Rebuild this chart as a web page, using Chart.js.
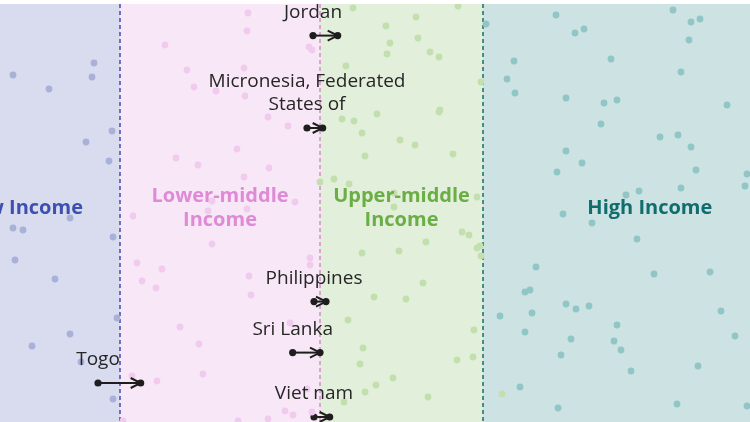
<!DOCTYPE html>
<html>
<head>
<meta charset="utf-8">
<script src="https://cdn.jsdelivr.net/npm/chart.js@4.4.1/dist/chart.umd.min.js"></script>
<style>
  html, body { margin: 0; padding: 0; background: #fff; }
  canvas { display: block; }
</style>
</head>
<body>
<canvas id="income-chart" width="750" height="422"></canvas>
<script>
// x = log10 of GNI per capita (US$), y = jitter row only
const thresholds = [3.06, 3.66, 4.149];
const bandEdges = [2.478, 3.06, 3.66, 4.149, 5.15];
const groupNames = [['Low Income'], ['Lower-middle', 'Income'], ['Upper-middle', 'Income'], ['High Income']];

const lowDots = [
  [2.739, 173.5], [2.847, 166.5], [2.982, 179.5], [2.976, 172.5], [3.036, 145.5], [2.958, 140],
  [3.027, 130.5], [2.910, 102], [2.739, 97], [2.769, 96], [3.039, 92.5], [2.745, 81],
  [2.865, 71.5], [3.051, 52], [2.910, 44], [2.796, 38], [2.943, 30], [3.039, 11.5]
];
const lowerMidDots = [
  [3.444, 204.5], [3.441, 195.5], [3.195, 188.5], [3.261, 176], [3.282, 167.5], [3.348, 165.5],
  [3.432, 177], [3.435, 163], [3.504, 152.5], [3.564, 148], [3.627, 187.5], [3.636, 186],
  [3.411, 136.5], [3.228, 132], [3.294, 128.5], [3.507, 127], [3.432, 122.5], [3.585, 110],
  [3.336, 110.5], [3.324, 105.5], [3.441, 106.5], [3.099, 103], [3.336, 89], [3.111, 79.5],
  [3.186, 76.5], [3.126, 70.5], [3.168, 67], [3.447, 73], [3.453, 63.5], [3.630, 82],
  [3.630, 78.5], [3.240, 47.5], [3.297, 39], [3.570, 49.5], [3.309, 24], [3.171, 20.5],
  [3.096, 23], [3.555, 5.5], [3.579, 3.5], [3.504, 1.5], [3.069, 0.5], [3.414, 0.5],
  [3.636, 5], [3.621, 16.5]
];
const upperMidDots = [
  [3.759, 207], [4.074, 208], [3.948, 202.5], [3.858, 198], [3.954, 192], [3.870, 189.5],
  [3.861, 184], [3.990, 185], [4.017, 182.5], [3.738, 178], [4.143, 170], [4.020, 156],
  [4.017, 155], [3.726, 151.5], [3.762, 150.5], [3.831, 154], [3.786, 144.5], [3.900, 141],
  [3.945, 138.5], [3.795, 133], [4.059, 134], [3.702, 121.5], [3.747, 119], [3.660, 120],
  [3.882, 114.5], [3.882, 107.5], [4.131, 112.5], [4.086, 95], [4.107, 93.5], [3.978, 90],
  [3.897, 85.5], [3.786, 84.5], [4.131, 87], [4.140, 88], [4.143, 83], [3.969, 69.5],
  [3.822, 62.5], [3.918, 61.5], [3.744, 51], [4.122, 46], [3.789, 37], [3.780, 29],
  [4.071, 31], [4.119, 32.5], [3.879, 22], [3.828, 18.5], [3.795, 15], [3.984, 12.5],
  [3.732, 10], [4.206, 14]
];
const highDots = [
  [4.158, 199], [4.368, 203.5], [4.425, 194.5], [4.452, 196.5], [4.719, 206], [4.773, 200],
  [4.800, 201.5], [4.767, 191], [4.242, 180.5], [4.221, 171.5], [4.245, 164.5], [4.533, 181.5],
  [4.743, 175], [4.398, 162], [4.512, 159.5], [4.551, 161], [4.881, 158.5], [4.503, 149],
  [4.680, 142.5], [4.734, 143.5], [4.773, 137.5], [4.398, 135.5], [4.446, 129.5], [4.371, 125],
  [4.788, 126], [4.941, 124], [4.935, 118], [4.578, 113.5], [4.617, 115.5], [4.743, 117],
  [4.389, 104], [4.476, 99.5], [4.611, 91.5], [4.308, 77.5], [4.662, 74], [4.830, 75],
  [4.275, 65], [4.290, 66], [4.296, 54.5], [4.200, 53], [4.398, 59], [4.428, 56.5],
  [4.467, 58], [4.863, 55.5], [4.551, 48.5], [4.275, 45], [4.413, 41.5], [4.542, 40.5],
  [4.563, 36], [4.905, 43], [4.383, 33.5], [4.593, 25.5], [4.794, 28], [4.260, 17.5],
  [4.374, 7], [4.731, 9], [4.941, 8]
];

const countries = ['Jordan', ['Micronesia, Federated', 'States of'], 'Philippines', 'Sri Lanka', 'Togo', 'Viet nam'];
const gniFrom = [3.639, 3.621, 3.642, 3.578, 2.994, 3.642];
const gniTo = [3.713, 3.668, 3.678, 3.660, 3.122, 3.689];
const countryRow = [193.2, 147, 60.2, 34.7, 19.5, 2.5];

const bandColors = ['#d8dcee', '#f8e7f7', '#e2efda', '#cde2e3'];
const dotColors = ['#a9b1d9', '#f1cbed', '#c3dfad', '#91c5c6'];
const labelColors = ['#3d4fb0', '#df8ad6', '#6aae45', '#0f6d6d'];
const lineColors = ['#3d4fb0', '#d98ad1', '#17706f'];

const toPoints = arr => arr.map(d => ({ x: d[0], y: d[1] }));

const dotSets = [lowDots, lowerMidDots, upperMidDots, highDots].map((arr, i) => ({
  data: toPoints(arr),
  pointRadius: 3.4,
  pointBorderWidth: 0,
  pointBackgroundColor: dotColors[i],
  showLine: false,
  clip: 0
}));

const arrowSets = countries.map((c, i) => ({
  data: [{ x: gniFrom[i], y: countryRow[i] }, { x: gniTo[i], y: countryRow[i] }],
  showLine: true,
  borderColor: '#1e1e1e',
  borderWidth: 2,
  pointRadius: 3.6,
  pointBorderWidth: 0,
  pointBackgroundColor: '#1e1e1e',
  clip: false
}));

const bandsPlugin = {
  id: 'bands',
  beforeDatasetsDraw(chart) {
    const { ctx, chartArea, scales: { x } } = chart;
    ctx.save();
    for (let i = 0; i < bandColors.length; i++) {
      const x0 = Math.max(chartArea.left, x.getPixelForValue(bandEdges[i]));
      const x1 = Math.min(chartArea.right, x.getPixelForValue(bandEdges[i + 1]));
      ctx.fillStyle = bandColors[i];
      ctx.fillRect(x0, chartArea.top, x1 - x0, chartArea.bottom - chartArea.top);
    }
    ctx.lineWidth = 1.5;
    ctx.setLineDash([4, 3]);
    thresholds.forEach((t, i) => {
      const px = Math.round(x.getPixelForValue(t));
      ctx.strokeStyle = lineColors[i];
      ctx.beginPath();
      ctx.moveTo(px, chartArea.top);
      ctx.lineTo(px, chartArea.bottom);
      ctx.stroke();
    });
    ctx.restore();
  },
  afterDatasetsDraw(chart) {
    const { ctx, scales: { x, y } } = chart;
    ctx.save();
    // group names, centred in their band
    ctx.font = 'bold 20px "Open Sans"';
    ctx.textAlign = 'center';
    ctx.textBaseline = 'middle';
    const midY = y.getPixelForValue(107);
    groupNames.forEach((lines, i) => {
      const cx = (x.getPixelForValue(bandEdges[i]) + x.getPixelForValue(bandEdges[i + 1])) / 2;
      ctx.fillStyle = labelColors[i];
      lines.forEach((t, k) => {
        ctx.fillText(t, cx, midY + (k - (lines.length - 1) / 2) * 24);
      });
    });

    // arrow heads and country names
    ctx.strokeStyle = '#1e1e1e';
    ctx.lineWidth = 2;
    ctx.font = '19px "Open Sans"';
    ctx.fillStyle = '#262626';
    countries.forEach((c, i) => {
      const x0 = x.getPixelForValue(gniFrom[i]);
      const x1 = x.getPixelForValue(gniTo[i]);
      const py = y.getPixelForValue(countryRow[i]);
      const dir = x1 >= x0 ? 1 : -1;
      ctx.beginPath();
      ctx.moveTo(x1 - dir * 10, py - 5);
      ctx.lineTo(x1, py);
      ctx.lineTo(x1 - dir * 10, py + 5);
      ctx.stroke();
      const lines = Array.isArray(c) ? c : [c];
      lines.forEach((t, k) => {
        ctx.fillText(t, x0, py - 23 - (lines.length - 1 - k) * 23);
      });
    });
    ctx.restore();
  }
};

new Chart(document.getElementById('income-chart').getContext('2d'), {
  type: 'scatter',
  data: { datasets: dotSets.concat(arrowSets) },
  options: {
    responsive: false,
    animation: false,
    devicePixelRatio: 1,
    layout: { autoPadding: false, padding: { top: 4, left: 0, right: 0, bottom: 0 } },
    plugins: { legend: { display: false }, tooltip: { enabled: false } },
    scales: {
      x: { type: 'linear', min: 2.70, max: 4.95, display: false },
      y: { type: 'linear', min: 0, max: 209, display: false }
    }
  },
  plugins: [bandsPlugin]
});
</script>
</body>
</html>
